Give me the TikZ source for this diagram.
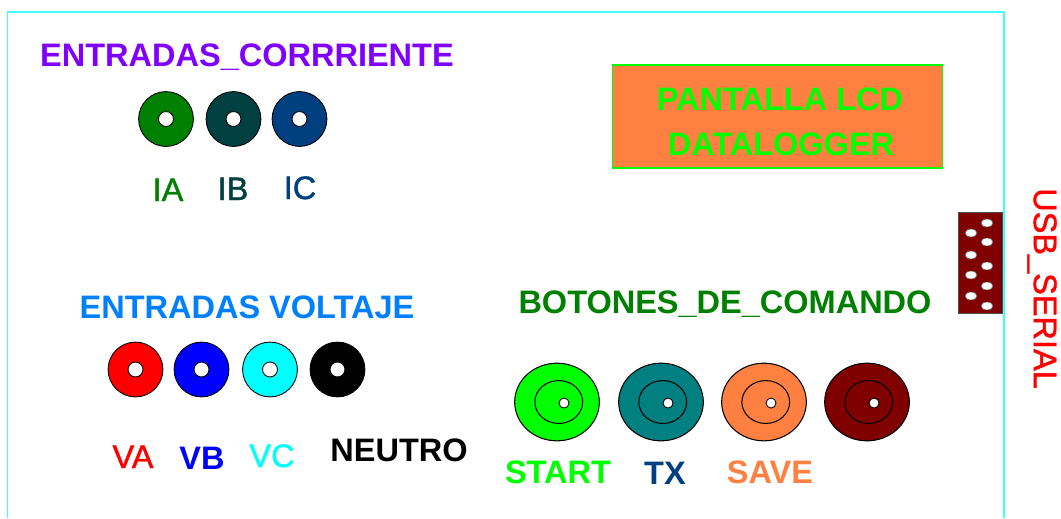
\documentclass[tikz,border=0pt]{standalone}
\usepackage{fontspec}
\setmainfont{Liberation Sans}
\newfontfamily\medio{Liberation Sans}[FakeBold=1.3]
\usetikzlibrary{shapes.geometric}
\definecolor{marco}{RGB}{64,255,255}
\definecolor{morado}{RGB}{128,0,255}
\definecolor{azulv}{RGB}{0,128,255}
\definecolor{verde}{RGB}{0,128,0}
\definecolor{verdeosc}{RGB}{0,64,64}
\definecolor{azulosc}{RGB}{0,64,128}
\definecolor{naranja}{RGB}{255,128,64}
\definecolor{granate}{RGB}{128,0,0}
\definecolor{lima}{RGB}{0,255,0}
\definecolor{azulverde}{RGB}{0,128,128}
\definecolor{rojo}{RGB}{255,0,0}
\definecolor{azul}{RGB}{0,0,255}
\definecolor{celeste}{RGB}{0,255,255}
\begin{document}
\begin{tikzpicture}[x=0.02cm,y=-0.02cm,
	jack/.style={circle,draw=black,line width=0.5pt,fill=#1,minimum size=31.2pt,inner sep=0pt},
	hueco/.style={circle,draw=black,line width=0.5pt,fill=white,minimum size=#1,inner sep=0pt},
	boton/.style={ellipse,draw=black,line width=0.6pt,fill=#1,minimum width=48.2pt,minimum height=44.2pt,inner sep=0pt},
	anillo/.style={ellipse,draw=black,line width=0.6pt,minimum width=27.2pt,minimum height=24.4pt,inner sep=0pt},
	pin/.style={ellipse,draw=black!60,line width=0.3pt,fill=white,minimum width=6.8pt,minimum height=4.5pt,inner sep=0pt},
	etiq/.style={text=#1,font=\fontsize{18.5}{22}\selectfont\medio,anchor=base,inner sep=0pt},
	titulo/.style={text=#1,font=\fontsize{18.5}{22}\selectfont\bfseries,anchor=base,inner sep=0pt}]
		\useasboundingbox (0,0) rectangle (1061,518);
		% marco
		\draw[marco,line width=1.1pt] (7.5,518) -- (7.5,12) -- (1004,12) -- (1004,518);
		% entradas de corriente
		\node[titulo=morado] (tcorr) at (247,66) {ENTRADAS\_CORRRIENTE};
		\foreach \x/\col/\n in {166/verde/ia,233.5/verdeosc/ib,299.5/azulosc/ic}{
			\node[jack=\col] (\n) at (\x,119) {};
			\node[hueco=8.5pt] (h\n) at (\n.center) {};
		}
		\node[etiq=verde] (lia) at (168,201) {IA};
		\node[etiq=verdeosc] (lib) at (233,200) {IB};
		\node[etiq=azulosc] (lic) at (300,199) {IC};
		% entradas de voltaje
		\node[titulo=azulv] (tvolt) at (247,318) {ENTRADAS VOLTAJE};
		\foreach \x/\col/\n in {135.5/rojo/va,201.5/azul/vb,270/celeste/vc,337.5/black/vn}{
			\node[jack=\col] (\n) at (\x,369.5) {};
			\node[hueco=8.5pt] (h\n) at (\n.center) {};
		}
		\node[etiq=rojo] (lva) at (133,468) {VA};
		\node[titulo=azul] (lvb) at (202,469) {VB};
		\node[etiq=celeste] (lvc) at (272,467) {VC};
		\node[titulo=black] (lvn) at (399,461) {NEUTRO};
		% pantalla
		\node[draw=lima,line width=0.9pt,fill=naranja,minimum width=187.6pt,minimum height=58.4pt] (lcd) at (777.5,116.5) {};
		\node[titulo=lima] (lcd1) at (780,110) {PANTALLA LCD};
		\node[titulo=lima] (lcd2) at (781,155) {DATALOGGER};
		% botones
		\node[titulo=verde] (tbot) at (725,313) {BOTONES\_DE\_COMANDO};
		\foreach \x/\col/\n in {557/lima/start,661/azulverde/tx,764/naranja/save,867/granate/extra}{
			\node[boton=\col] (\n) at (\x,402) {};
			\node[anillo] (a\n) at ([xshift=1pt]\n.center) {};
			\node[hueco=5.7pt] (h\n) at ([xshift=4pt,yshift=-0.6pt]\n.center) {};
		}
		\node[titulo=lima] (lstart) at (558,483) {START};
		\node[titulo=azulosc] (ltx) at (665,484) {TX};
		\node[titulo=naranja] (lsave) at (770,483) {SAVE};
		% conector usb
		\node[draw=black!70,line width=0.5pt,fill=granate,minimum width=25.5pt,minimum height=57.8pt,inner sep=0pt] (usb) at (980.5,263) {};
		\foreach \y in {223,242,266,286,306}{
			\node[pin] at (987,\y) {};
		}
		\foreach \y in {233,255,275,296}{
			\node[pin] at (971,\y) {};
		}
		\node[etiq=rojo,rotate=-90,anchor=center] (lusb) at (1042,288.5) {USB\_SERIAL};
\end{tikzpicture}
\end{document}
